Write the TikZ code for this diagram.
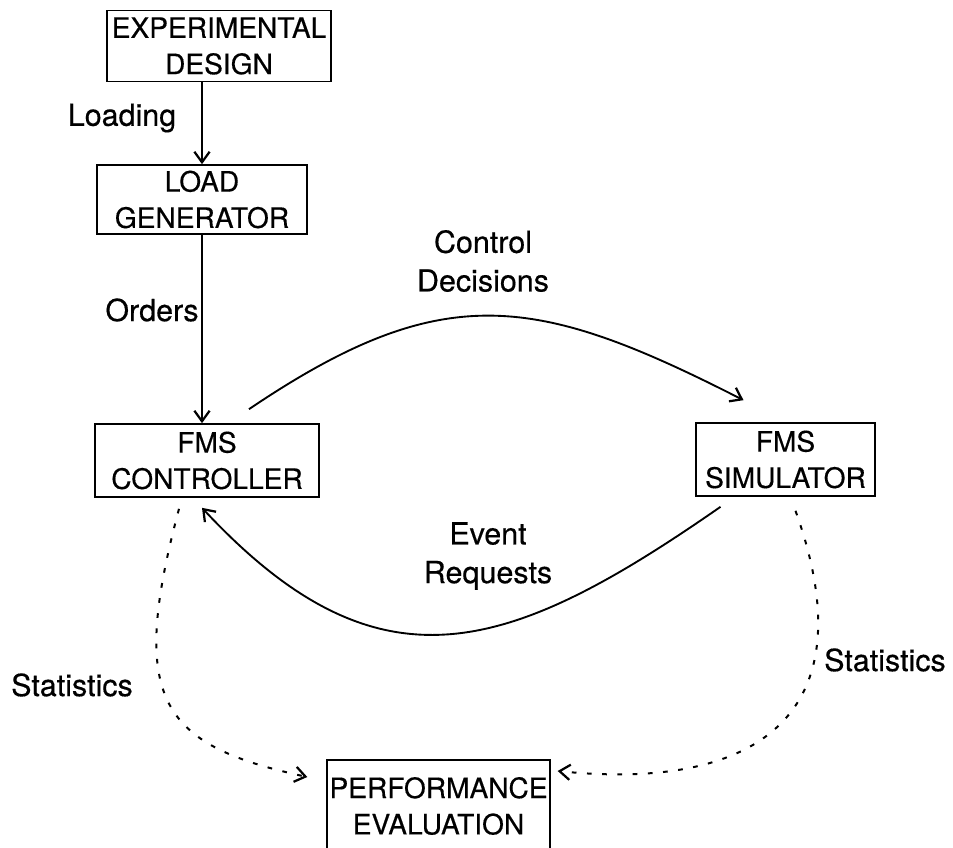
\documentclass[tikz,border=0pt]{standalone}
\usepackage{fontspec}
\setmainfont{TeX Gyre Heros}[FakeBold=0.4]
\usepackage{tikz}
\usetikzlibrary{arrows.meta}

\newcommand{\fmsfont}{\fontsize{24}{31}\selectfont}
\newcommand{\fmslblfont}{\fontsize{26}{33}\selectfont}

\begin{document}
\begin{tikzpicture}[x=0.03cm, y=-0.03cm,
      box/.style={draw, line width=1.4pt, align=center, inner xsep=2pt, font=\fmsfont},
      lbl/.style={align=center, font=\fmslblfont},
      flow/.style={line width=1.6pt, -{Straight Barb[length=9pt,width=13pt,line width=1.9pt]}},
      stat/.style={flow, line width=1.7pt, dash pattern=on 4pt off 9pt}]
    \useasboundingbox (0,0) rectangle (953,848);
    \clip (0,0) rectangle (953,848);
    % boxes
    \node[box, minimum width=6.72cm, minimum height=2.13cm] (design) at (219,46) {EXPERIMENTAL\\DESIGN};
    \node[box, minimum width=6.3cm, minimum height=2.07cm] (load) at (202,199.5) {LOAD\\GENERATOR};
    \node[box, minimum width=6.72cm, minimum height=2.19cm] (ctrl) at (207,460.5) {FMS\\CONTROLLER};
    \node[box, minimum width=5.37cm, minimum height=2.19cm] (sim) at (785.5,459.5) {FMS\\SIMULATOR};
    \node[box, minimum width=6.45cm, minimum height=2.76cm] (perf) at (438.5,806) {PERFORMANCE\\EVALUATION};
    % labels
    \node[lbl] (loading) at (122,118) {Loading};
    \node[lbl] (orders) at (152,310) {Orders};
    \node[lbl] (decisions) at (483,261) {Control\\Decisions};
    \node[lbl] (requests) at (488,556) {Event\\Requests};
    \node[lbl] (statl) at (72,685) {Statistics};
    \node[lbl] (statr) at (885,660) {Statistics};
    % connectors
    \draw[flow] (design.south -| load.north) -- (load.north);
    \draw[flow] (load.south) -- (load.south |- ctrl.north);
    \draw[flow] ([shift={(42,-14)}]ctrl.north) .. controls +(194,-131) and +(-208,-106) .. ([shift={(-42,-22)}]sim.north);
    \draw[flow] ([shift={(-65,10)}]sim.south) .. controls +(-213,148) and +(177,190) .. ([shift={(-5,10)}]ctrl.south);
    \draw[stat] ([shift={(-28,11)}]ctrl.south) .. controls (128,700) and (160,745) .. ([shift={(-19,-29)}]perf.west);
    \draw[stat] ([shift={(10,14)}]sim.south) .. controls (870,718) and (753,791) .. ([shift={(7,-35)}]perf.east);
\end{tikzpicture}
\end{document}
